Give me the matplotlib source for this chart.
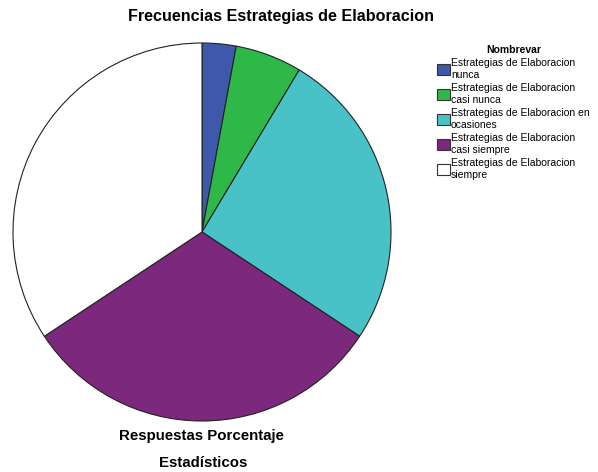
import matplotlib.pyplot as plt
from matplotlib.patches import Patch

# ── Data ──────────────────────────────────────────────────────────────────────
categories = [
    'Estrategias de Elaboracion\nnunca',
    'Estrategias de Elaboracion\ncasi nunca',
    'Estrategias de Elaboracion en\nocasiones',
    'Estrategias de Elaboracion\ncasi siempre',
    'Estrategias de Elaboracion\nsiempre',
]
porcentaje = [2.9, 5.7, 25.7, 31.4, 34.3]
colores = ['#3E58AC', '#2EB848', '#48C2C6', '#7B287D', '#FFFFFF']

plt.rcParams['font.family'] = ['Liberation Sans', 'DejaVu Sans']

fig = plt.figure(figsize=(5.98, 4.72), dpi=100)
W, H = 598, 472
cx, cy, r = 202, 232, 189
ax = fig.add_axes([(cx - r) / W, (H - cy - r) / H, 2 * r / W, 2 * r / H])
ax.pie(porcentaje, colors=colores, startangle=90, counterclock=False,
       wedgeprops=dict(edgecolor='#222222', linewidth=0.8))
ax.set_xlim(-1, 1)
ax.set_ylim(-1, 1)
ax.set_aspect('equal')

fig.text(281 / W, 1 - 17 / H, 'Frecuencias Estrategias de Elaboracion',
         ha='center', va='center', fontsize=11.6, fontweight='bold')
fig.text(201 / W, 1 - 436 / H, 'Respuestas Porcentaje',
         ha='center', va='center', fontsize=10.8, fontweight='bold')
fig.text(203 / W, 1 - 463 / H, 'Estadísticos',
         ha='center', va='center', fontsize=10.8, fontweight='bold')

handles = [Patch(facecolor=c, edgecolor='#333333', linewidth=0.8) for c in colores]
leg = fig.legend(handles, categories, loc='upper left',
                 bbox_to_anchor=(437 / W, 1 - 45 / H), frameon=False,
                 fontsize=7.5, title='Nombrevar',
                 title_fontproperties={'weight': 'bold', 'size': 7.5},
                 handlelength=1.2, handleheight=1.2, handletextpad=0.15,
                 labelspacing=0.25, borderaxespad=0, borderpad=0)
for t in leg.get_texts():
    t.set_linespacing(1.3)

fig.savefig('out.png', dpi=100)
